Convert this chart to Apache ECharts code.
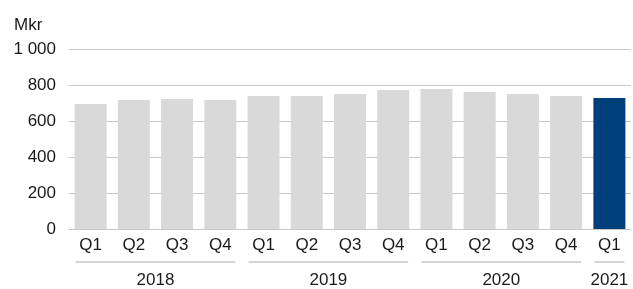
<!DOCTYPE html>
<html>
<head>
<meta charset="utf-8">
<script src="https://cdn.jsdelivr.net/npm/echarts@6/dist/echarts.min.js"></script>
<style>
  html, body { margin: 0; padding: 0; background: #fff; }
  #chart { width: 633px; height: 289px; }
</style>
</head>
<body>
<div id="chart"></div>
<script>
// quarters and values (Mkr)
var quarters = ["Q1", "Q2", "Q3", "Q4", "Q1", "Q2", "Q3", "Q4", "Q1", "Q2", "Q3", "Q4", "Q1"];
var values = [694, 717, 722, 717, 739, 739, 750, 772, 778, 761, 750, 739, 728];
// year groups: first index, last index, label
var yearGroups = [
  [0, 3, "2018"],
  [4, 7, "2019"],
  [8, 11, "2020"],
  [12, 12, "2021"]
];
var yTicks = [0, 200, 400, 600, 800, 1000];

var grey = "#d9d9d9";
var blue = "#00407a";
var textColor = "#1a1a1a";
var font = "'Liberation Sans', Arial, sans-serif";

var barData = values.map(function (v, i) {
  return {
    value: v,
    itemStyle: { color: i === values.length - 1 ? blue : grey }
  };
});

var chart = echarts.init(document.getElementById("chart"));

var option = {
  animation: false,
  title: {
    text: "Mkr",
    left: 9,
    top: 12,
    textStyle: { fontFamily: font, fontSize: 17, fontWeight: "normal", color: textColor }
  },
  grid: {
    left: 69,
    right: 2,
    top: 49,
    bottom: 60
  },
  xAxis: {
    type: "category",
    data: quarters,
    axisLine: { show: true, lineStyle: { color: "#c8c8c8", width: 1 } },
    axisTick: { show: false },
    axisLabel: {
      color: textColor,
      fontFamily: font,
      fontSize: 17,
      margin: 8,
      interval: 0
    }
  },
  yAxis: {
    type: "value",
    min: yTicks[0],
    max: yTicks[yTicks.length - 1],
    interval: 200,
    axisLine: { show: false },
    axisTick: { show: false },
    splitLine: { lineStyle: { color: "#c8c8c8", width: 1 } },
    axisLabel: {
      color: textColor,
      fontFamily: font,
      fontSize: 17,
      margin: 13,
      formatter: function (v) {
        return String(v).replace(/\B(?=(\d{3})+(?!\d))/g, " ");
      }
    }
  },
  series: [
    {
      type: "bar",
      data: barData,
      barCategoryGap: "26%",
      z: 3
    },
    {
      type: "custom",
      data: yearGroups,
      clip: false,
      encode: { x: [0, 1] },
      silent: true,
      renderItem: function (params, api) {
        var start = api.coord([api.value(0), 0]);
        var end = api.coord([api.value(1), 0]);
        var band = api.size([1, 0])[0];
        var half = band * 0.74 / 2;
        var x1 = start[0] - half + 1;
        var x2 = end[0] + half - 1;
        var base = start[1];
        return {
          type: "group",
          children: [
            {
              type: "line",
              shape: { x1: x1, y1: base + 33, x2: x2, y2: base + 33 },
              style: { stroke: "#d4d4d4", lineWidth: 2 }
            },
            {
              type: "text",
              style: {
                x: (x1 + x2) / 2,
                y: base + 51,
                text: yearGroups[params.dataIndex][2],
                fill: textColor,
                font: "17px " + font,
                align: "center",
                verticalAlign: "middle"
              }
            }
          ]
        };
      }
    }
  ]
};

chart.setOption(option);
</script>
</body>
</html>
